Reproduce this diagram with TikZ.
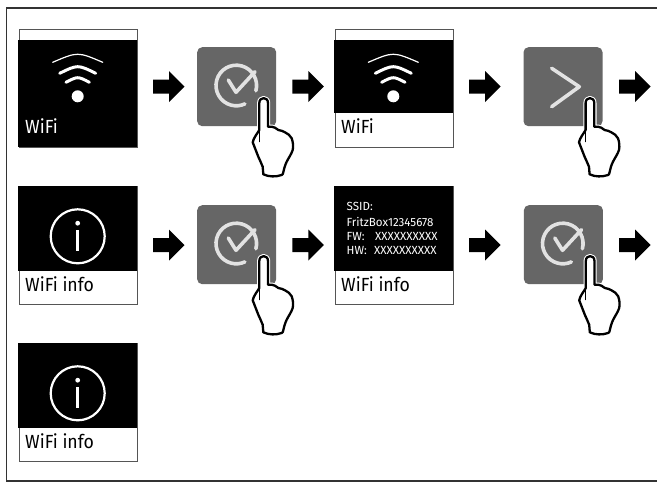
\documentclass[tikz,border=0pt]{standalone}
\usepackage{fontspec}
\setmainfont{Fira Sans}
\newfontfamily\labelfont[FakeStretch=0.93]{Fira Sans}
\newfontfamily\smallfont[FakeStretch=0.98]{Fira Sans}
\definecolor{btngray}{HTML}{666666}
\definecolor{iconlight}{HTML}{E2E2E2}
\definecolor{edgegray}{HTML}{555555}
\tikzset{
  outerline/.style={draw=black!80,line width=1.4pt},
  scrblack/.style={fill=black,draw=none,rectangle,inner sep=0pt,anchor=north west},
  scrwhite/.style={fill=white,draw=edgegray,line width=1pt,rectangle,inner sep=0pt,anchor=north west,minimum width=118.5pt},
  btn/.style={fill=btngray,draw=none,rounded corners=5pt,rectangle,inner sep=0pt,anchor=north west,minimum width=79pt,minimum height=79pt},
  bigtext/.style={font=\labelfont\fontsize{19}{20}\selectfont,anchor=base west,inner sep=0pt},
  smalltext/.style={font=\smallfont\fontsize{11.8}{12}\selectfont,anchor=base west,inner sep=0pt,text=white},
  icon/.style={draw=iconlight,line width=3.6pt,line cap=round,line join=round},
  blockarrow/.style={fill=black,draw=none},
  handline/.style={line join=round,line cap=round}
}
\newcommand{\wifiicon}[2]{%
  \begin{scope}[shift={(#1,#2)},white,line cap=round]
    \draw[line width=1.2pt] (-25,34.3) .. controls (0,23.6) .. (25,34.3);
    \draw[line width=3pt] (-18,45.3) .. controls (0,36.5) .. (18,45.3);
    \draw[line width=3pt] (-11.7,54.3) .. controls (0,48.2) .. (11.7,54.3);
    \fill (0,68.3) circle (6);
  \end{scope}}
\newcommand{\infoicon}[2]{%
  \begin{scope}[shift={(#1,#2)},white]
    \draw[line width=2.2pt] (0,50.3) circle (27);
    \fill (0,37.2) circle (2.4);
    \draw[line width=2.8pt] (0,44) -- (0,64.5);
  \end{scope}}
\newcommand{\checkicon}[2]{%
  \begin{scope}[shift={(#1,#2)}]
    \draw[icon] (39.3,38.5) ++(15:20.3) arc[start angle=15,end angle=-295,radius=20.3];
    \draw[icon] (31.3,33) -- (39,45.3) -- (58,24.7);
  \end{scope}}
\newcommand{\chevronicon}[2]{%
  \begin{scope}[shift={(#1,#2)}]
    \draw[icon] (28.7,21.3) -- (56.3,39.7) -- (28.7,59.7);
  \end{scope}}
\newcommand{\handicon}[2]{%
  \begin{scope}[shift={(#1,#2)}]
    \def\handpath{(62.3,83) -- (62.3,56) .. controls (62.3,49.5) and (71,49.5) .. (71,56) -- (71,79.7)
      .. controls (74,79.7) and (76,79.5) .. (78,80.7) .. controls (79,82) and (80,82.5) .. (81.3,83)
      .. controls (84,83.5) and (86,84) .. (88,85.3) .. controls (91,86.5) and (93,88.5) .. (94.7,91.3)
      .. controls (96,95) and (96.5,99) .. (95.7,103) .. controls (94.5,107) and (91.5,111) .. (89.7,114.7)
      .. controls (88,118) and (87,122) .. (86.3,125.3) .. controls (86,127) and (85.5,127.7) .. (84.7,128)
      .. controls (79,130) and (72,130) .. (66.3,127.3) .. controls (65.5,125) and (66.5,122) .. (65.7,119.7)
      .. controls (64,116) and (63,113) .. (61.3,109.7) -- (55.7,95.3) .. controls (56.5,91) and (60,87) .. (62.3,83) -- cycle}
    \draw[white,line width=4.4pt,handline] \handpath;
    \draw[fill=white,draw=black,line width=2.3pt,handline] \handpath;
    \draw[black,line width=1.1pt,handline] (62.3,83) -- (62.3,94.7);
  \end{scope}}
\newcommand{\blockarr}[2]{%
  \fill[blockarrow] (#1,#2-7) -- (#1+16,#2-7) -- (#1+16,#2-15.5) -- (#1+31.5,#2) -- (#1+16,#2+15.5) -- (#1+16,#2+7) -- (#1,#2+7) -- cycle;}
\begin{document}
\begin{tikzpicture}[x=1pt,y=-1pt]
\useasboundingbox (0,0) rectangle (657,482);
\fill[white] (0,0) rectangle (657,482);
% frame (open on the right)
\draw[outerline] (657,8) -- (6.3,8) -- (6.3,480.8) -- (657,480.8);

% row 1, screen 1
\node[scrwhite,minimum height=118pt] (s1) at (18.7,28.5) {};
\node[scrblack,minimum width=119pt,minimum height=107pt] (s1b) at (18,40) {};
\wifiicon{77.7}{28}
\node[bigtext,text=white] (t1) at (25,133.5) {WiFi};
% row 1, screen 2
\node[scrwhite,minimum height=118pt] (s2) at (334.5,28.5) {};
\node[scrblack,minimum width=119pt,minimum height=72.5pt] (s2b) at (334,40) {};
\wifiicon{393.3}{28}
\node[bigtext] (t2) at (341,133.5) {WiFi};
% row 2, screen 1
\node[scrwhite,minimum height=118pt] (s3) at (18.7,186.3) {};
\node[scrblack,minimum width=119pt,minimum height=85pt] (s3b) at (18,186) {};
\infoicon{77.7}{186}
\node[bigtext] (t3) at (25,291.5) {WiFi info};
% row 2, screen 2
\node[scrwhite,minimum height=118pt] (s4) at (334.5,186.3) {};
\node[scrblack,minimum width=119pt,minimum height=85pt] (s4b) at (334,186) {};
\node[smalltext] (a1) at (346.5,210.7) {SSID:};
\node[smalltext] (a2) at (346.5,226) {FritzBox12345678};
\node[smalltext] (a3) at (346.5,240.7) {FW:};
\node[smalltext] (a4) at (375,240.7) {XXXXXXXXXX};
\node[smalltext] (a5) at (346.5,254.3) {HW:};
\node[smalltext] (a6) at (374,254.3) {XXXXXXXXXX};
\node[bigtext] (t4) at (341,291.5) {WiFi info};
% row 3
\node[scrwhite,minimum height=118pt] (s5) at (18.7,343.3) {};
\node[scrblack,minimum width=119pt,minimum height=85pt] (s5b) at (18,343) {};
\infoicon{77.7}{343}
\node[bigtext] (t5) at (25,448.5) {WiFi info};

% buttons
\node[btn] (b1) at (197,47) {};
\checkicon{197}{47}
\node[btn] (b2) at (523.3,47) {};
\chevronicon{523}{47}
\node[btn] (b3) at (197,205) {};
\checkicon{197}{205}
\node[btn] (b4) at (523.7,205) {};
\checkicon{523.5}{205}

% arrows
\blockarr{153}{86.5}
\blockarr{292.3}{86.5}
\blockarr{469}{86.5}
\blockarr{619}{86.5}
\blockarr{153}{245}
\blockarr{292.3}{245}
\blockarr{469}{245}
\blockarr{619}{245}

% hands
\handicon{197}{47}
\handicon{523.3}{47}
\handicon{197}{205}
\handicon{523.5}{205}
\end{tikzpicture}
\end{document}
